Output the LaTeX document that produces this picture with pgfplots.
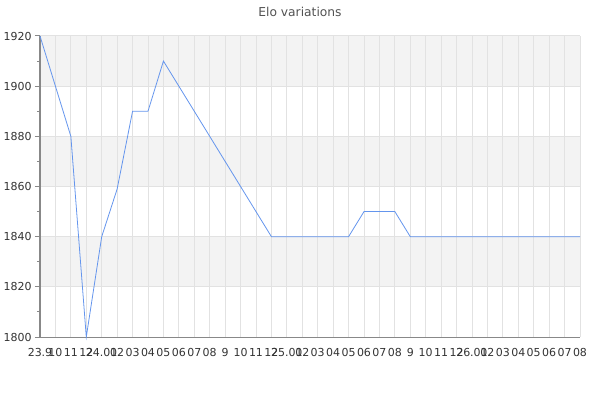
\documentclass[border=0pt]{standalone}
\usepackage{fontspec}
\setmainfont{DejaVu Sans}
\usepackage{pgfplots}
\pgfplotsset{compat=1.18}
\definecolor{bandgray}{HTML}{F3F3F3}
\definecolor{gridgray}{HTML}{E2E2E2}
\definecolor{axisgray}{HTML}{888888}
\definecolor{linecol}{HTML}{6495ED}
\definecolor{txt}{HTML}{333333}
\begin{document}
\begin{tikzpicture}
\begin{axis}[
  set layers,
  at={(0pt,0pt)}, anchor=south west,
  scale only axis, width=405pt, height=225.75pt,
  xmin=0, xmax=35, ymin=1800, ymax=1920,
  axis x line*=bottom, axis y line*=left,
  axis line style={axisgray, line width=0.75pt},
  xtick={0,...,35},
  xticklabels={23.9,10,11,12,24.01,02,03,04,05,06,07,08,9,10,11,12,25.01,02,03,04,05,06,07,08,9,10,11,12,26.01,02,03,04,05,06,07,08},
  ytick={1800,1820,...,1920},
  minor y tick num=1,
  grid=major,
  major grid style={gridgray, line width=0.75pt},
  tick align=outside,
  x tick style={draw=none},
  y tick style={axisgray, line width=0.75pt},
  major tick length=3.75pt, minor tick length=2.25pt,
  /pgf/number format/assume math mode=true,
  /pgf/number format/1000 sep={},
  tick label style={font=\fontsize{8.25}{9}\selectfont, text=txt},
  xticklabel style={inner sep=0pt, yshift=-4.6pt},
  yticklabel style={inner sep=0pt, xshift=-2.3pt},
  clip=false,
]
\addplot[fill=bandgray, draw=none, on layer=axis background] coordinates {(0,1900) (35,1900) (35,1920) (0,1920)} -- cycle;
\addplot[fill=bandgray, draw=none, on layer=axis background] coordinates {(0,1860) (35,1860) (35,1880) (0,1880)} -- cycle;
\addplot[fill=bandgray, draw=none, on layer=axis background] coordinates {(0,1820) (35,1820) (35,1840) (0,1840)} -- cycle;
\addplot[linecol, line width=0.6pt, mark=none] coordinates {
(0,1920) (1,1900) (2,1880) (3,1800) (4,1840) (5,1859) (6,1890) (7,1890)
(8,1910) (9,1900) (10,1890) (11,1880) (12,1870) (13,1860) (14,1850) (15,1840)
(16,1840) (17,1840) (18,1840) (19,1840) (20,1840) (21,1850) (22,1850) (23,1850)
(24,1840) (25,1840) (26,1840) (27,1840) (28,1840) (29,1840) (30,1840) (31,1840)
(32,1840) (33,1840) (34,1840) (35,1840)
};
\end{axis}
\node[font=\fontsize{9.2}{11}\selectfont, text=txt!85!white] at (195pt,243.75pt) {Elo variations};
\pgfresetboundingbox
\path[use as bounding box] (-30pt,-47.25pt) rectangle (420pt,252.75pt);
\end{tikzpicture}
\end{document}
